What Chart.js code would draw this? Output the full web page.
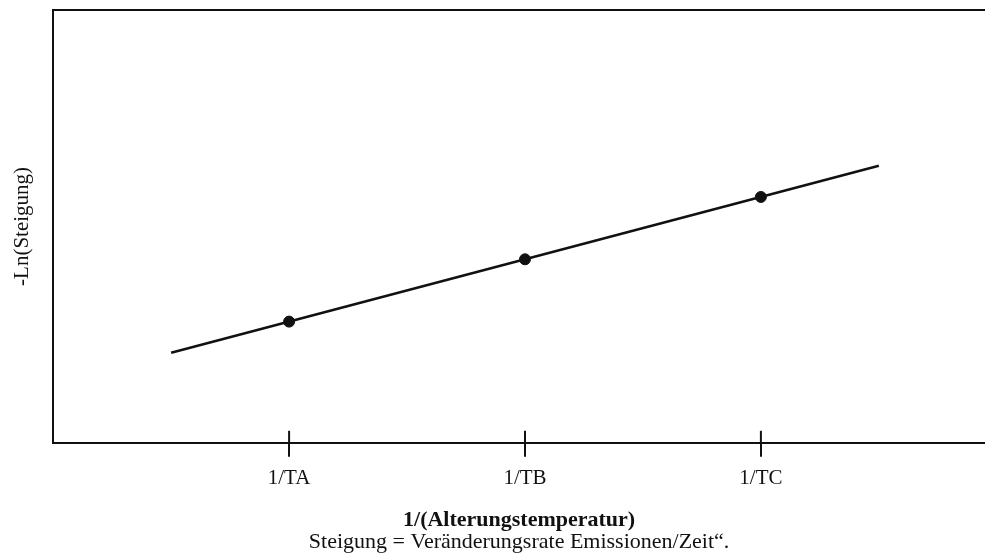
<!DOCTYPE html>
<html>
<head>
<meta charset="utf-8">
<script src="https://cdn.jsdelivr.net/npm/chart.js@4"></script>
<style>
html,body{margin:0;padding:0;background:#fff;}
canvas{display:block;}
</style>
</head>
<body>
<canvas id="c" width="985" height="560"></canvas>
<script>
// Data
const categories = ['1/TA', '1/TB', '1/TC'];
const categoryX = [1, 2, 3];
const pointValues = [2.8, 4.24, 5.68];
const fitX = [0.5, 3.5];
const fitY = [2.08, 6.40];
const xTitle = '1/(Alterungstemperatur)';
const subTitle = 'Steigung = Veränderungsrate Emissionen/Zeit“.';
const yTitle = '-Ln(Steigung)';

const FONT = '"Liberation Serif", "DejaVu Serif", serif';
const INK = '#111';

const innerTicks = {
  id: 'innerTicks',
  afterDraw(chart) {
    const xs = chart.scales.x;
    const ctx = chart.ctx;
    const bottom = chart.chartArea.bottom;
    ctx.save();
    ctx.strokeStyle = INK;
    ctx.lineWidth = 2;
    xs.ticks.forEach(t => {
      const px = xs.getPixelForValue(t.value);
      ctx.beginPath();
      ctx.moveTo(px, bottom - 12);
      ctx.lineTo(px, bottom);
      ctx.stroke();
    });
    ctx.restore();
  }
};

new Chart(document.getElementById('c'), {
  type: 'scatter',
  data: {
    datasets: [
      {
        type: 'line',
        data: fitX.map((x, i) => ({x, y: fitY[i]})),
        borderColor: INK,
        borderWidth: 2.5,
        pointRadius: 0,
        fill: false
      },
      {
        data: categoryX.map((x, i) => ({x, y: pointValues[i]})),
        backgroundColor: INK,
        borderColor: INK,
        pointRadius: 5.5,
        pointHoverRadius: 5.5
      }
    ]
  },
  options: {
    responsive: false,
    animation: false,
    layout: {autoPadding: false, padding: {top: 10, right: 0, bottom: 7, left: 0}},
    plugins: {legend: {display: false}, tooltip: {enabled: false}},
    scales: {
      x: {
        type: 'linear',
        position: 'bottom',
        weight: 0,
        min: 0,
        max: 3.95,
        afterBuildTicks: s => { s.ticks = categoryX.map(v => ({value: v})); },
        ticks: {
          color: INK,
          padding: 9,
          font: {family: FONT, size: 21, lineHeight: 1.2},
          callback: v => categories[categoryX.indexOf(v)] || ''
        },
        grid: {drawOnChartArea: false, drawTicks: true, tickLength: 14, color: INK, lineWidth: 2},
        border: {display: true, color: INK, width: 2},
        title: {display: true, text: xTitle, color: INK, font: {family: FONT, size: 22, weight: 'bold', lineHeight: 1.0}, padding: {top: 9, bottom: -8}}
      },
      x2: {
        type: 'linear',
        position: 'bottom',
        weight: 1,
        min: 0,
        max: 1,
        ticks: {display: false},
        grid: {display: false},
        border: {display: false},
        title: {display: true, text: subTitle, color: INK, font: {family: FONT, size: 22, lineHeight: 1.0}, padding: {top: 0, bottom: 0}}
      },
      y: {
        type: 'linear',
        min: 0,
        max: 10,
        ticks: {display: false, stepSize: 1},
        grid: {
          drawTicks: false,
          color: c => c.tick && c.tick.value === 10 ? INK : 'rgba(0,0,0,0)',
          lineWidth: 2
        },
        border: {display: true, color: INK, width: 2},
        title: {display: true, text: yTitle, color: INK, font: {family: FONT, size: 21, lineHeight: 1.2}, padding: {top: 10, bottom: 18}}
      }
    }
  },
  plugins: [innerTicks]
});
</script>
</body>
</html>
